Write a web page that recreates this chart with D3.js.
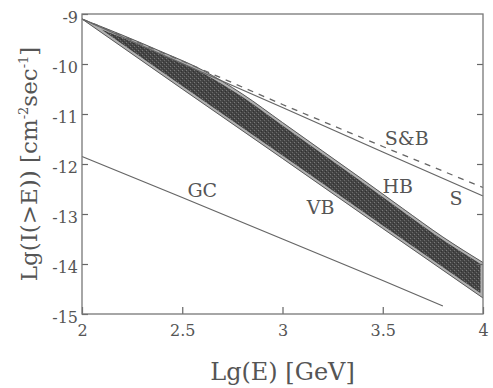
<!DOCTYPE html>
<html>
<head>
<meta charset="utf-8">
<script src="https://cdn.jsdelivr.net/npm/d3@7"></script>
<style>
    body { margin: 0; background: #fff; }
    svg text { font-family: 'DejaVu Serif', serif; fill: #555; }
</style>
</head>
<body>
<svg id="chart"></svg>
<script>
// Lg(E) ticks / Lg(I) ticks
const xTicks = [2, 2.5, 3, 3.5, 4];
const yTicks = [-9, -10, -11, -12, -13, -14, -15];

// S (solid)
const sLgE = [2, 2.5, 3, 3.5, 4];
const sVal = [-9.10, -9.99, -10.87, -11.76, -12.64];

// S&B (dashed)
const sbLgE = [2, 2.5, 3, 3.5, 4];
const sbVal = [-9.10, -9.94, -10.81, -11.65, -12.47];

// GC
const gcLgE = [2, 2.5, 3, 3.5, 3.8];
const gcVal = [-11.85, -12.67, -13.50, -14.33, -14.84];

// VB - HB band, upper and lower edge
const bandUpLgE = [2.0, 2.2, 2.4, 2.6, 2.8, 3.0, 3.2, 3.4, 3.6, 3.8, 4.0];
const bandUpVal = [-9.10, -9.42, -9.76, -10.12, -10.60, -11.17, -11.74, -12.31, -12.89, -13.46, -13.97];
const bandLoLgE = [2.0, 2.5, 3.0, 3.5, 4.0];
const bandLoVal = [-9.10, -10.50, -11.89, -13.29, -14.68];

// curve labels
const labelText = ['GC', 'VB', 'HB', 'S&B', 'S'];
const labelLgE = [2.6, 3.19, 3.575, 3.62, 3.865];
const labelVal = [-12.52, -12.86, -12.44, -11.48, -12.68];

const width = 493;
const height = 388;
const margin = { top: 14, right: 10, bottom: 74, left: 82 };
const w = width - margin.left - margin.right;
const h = height - margin.top - margin.bottom;
const lineColor = '#666';

const svg = d3.select('#chart')
    .attr('width', width)
    .attr('height', height);

const g = svg.append('g')
    .attr('transform', 'translate(' + margin.left + ',' + margin.top + ')');

const x = d3.scaleLinear().domain([2, 4]).range([0, w]);
const y = d3.scaleLinear().domain([-15, -9]).range([h, 0]);

function pts(xs, ys) {
    return xs.map(function (d, i) { return [d, ys[i]]; });
}

const line = d3.line()
    .x(function (d) { return x(d[0]); })
    .y(function (d) { return y(d[1]); });

const smooth = d3.line()
    .curve(d3.curveMonotoneX)
    .x(function (d) { return x(d[0]); })
    .y(function (d) { return y(d[1]); });

// stipple texture for the band
const defs = svg.append('defs');
const pat = defs.append('pattern')
    .attr('id', 'stipple')
    .attr('width', 4)
    .attr('height', 4)
    .attr('patternUnits', 'userSpaceOnUse');
pat.append('rect').attr('width', 4).attr('height', 4).attr('fill', '#454545');
pat.append('rect').attr('x', 0).attr('y', 0).attr('width', 1).attr('height', 1).attr('fill', '#7a7a7a');
pat.append('rect').attr('x', 2).attr('y', 2).attr('width', 1).attr('height', 1).attr('fill', '#6a6a6a');
pat.append('rect').attr('x', 3).attr('y', 1).attr('width', 1).attr('height', 1).attr('fill', '#303030');
pat.append('rect').attr('x', 1).attr('y', 3).attr('width', 1).attr('height', 1).attr('fill', '#363636');

// band outline = upper edge forward + lower edge backward
const upper = pts(bandUpLgE, bandUpVal);
const lower = pts(bandLoLgE, bandLoVal);
const bandPath = smooth(upper) + 'L' + line(lower.slice().reverse()).slice(1) + 'Z';

defs.append('clipPath')
    .attr('id', 'bandClip')
    .append('path')
    .attr('d', bandPath);

const band = g.append('g').attr('clip-path', 'url(#bandClip)');
band.append('path')
    .attr('d', bandPath)
    .attr('fill', 'url(#stipple)');
band.append('path')
    .attr('d', bandPath)
    .attr('fill', 'none')
    .attr('stroke', '#b0b0b0')
    .attr('stroke-width', 5);

g.append('path')
    .attr('d', smooth(upper))
    .attr('fill', 'none')
    .attr('stroke', '#5a5a5a')
    .attr('stroke-width', 1);
g.append('path')
    .attr('d', line(lower))
    .attr('fill', 'none')
    .attr('stroke', '#5a5a5a')
    .attr('stroke-width', 1);

// S, S&B, GC
g.append('path')
    .attr('d', line(pts(sLgE, sVal)))
    .attr('fill', 'none')
    .attr('stroke', lineColor)
    .attr('stroke-width', 1.3);

g.append('path')
    .attr('d', line(pts(sbLgE, sbVal)))
    .attr('fill', 'none')
    .attr('stroke', lineColor)
    .attr('stroke-width', 1.3)
    .attr('stroke-dasharray', '6,6');

g.append('path')
    .attr('d', line(pts(gcLgE, gcVal)))
    .attr('fill', 'none')
    .attr('stroke', lineColor)
    .attr('stroke-width', 1.3);

// axes (ticks inward)
const fmt = function (d) { return String(d); };

const xAxis = g.append('g')
    .attr('transform', 'translate(0,' + h + ')')
    .call(d3.axisBottom(x).tickValues(xTicks).tickFormat(fmt).tickSizeInner(-7).tickSizeOuter(0).tickPadding(11));

const yAxis = g.append('g')
    .call(d3.axisLeft(y).tickValues(yTicks).tickFormat(fmt).tickSizeInner(-6).tickSizeOuter(0).tickPadding(4));

const yRight = g.append('g')
    .attr('transform', 'translate(' + w + ',0)')
    .call(d3.axisRight(y).tickValues(yTicks.slice(1, -1)).tickFormat('').tickSizeInner(-6).tickSizeOuter(0));

[xAxis, yAxis, yRight].forEach(function (a) {
    a.select('.domain').remove();
    a.selectAll('line').attr('stroke', lineColor).attr('stroke-width', 1.2);
    a.selectAll('text')
        .attr('fill', '#555')
        .style('font-family', "'DejaVu Serif', serif")
        .style('font-size', '16px');
});
yAxis.selectAll('text').attr('dy', '0.55em');

// frame
g.append('rect')
    .attr('width', w)
    .attr('height', h)
    .attr('fill', 'none')
    .attr('stroke', '#777')
    .attr('stroke-width', 1.3);

// curve labels
g.selectAll('.lbl')
    .data(labelText)
    .enter()
    .append('text')
    .attr('class', 'lbl')
    .attr('x', function (d, i) { return x(labelLgE[i]); })
    .attr('y', function (d, i) { return y(labelVal[i]); })
    .attr('dy', '0.36em')
    .attr('text-anchor', 'middle')
    .style('font-size', '19px')
    .text(function (d) { return d; });

// axis titles
svg.append('text')
    .attr('x', margin.left + w / 2)
    .attr('y', 380)
    .attr('text-anchor', 'middle')
    .style('font-size', '24px')
    .text('Lg(E) [GeV]');

const yt = svg.append('text')
    .attr('transform', 'translate(37,' + (margin.top + h / 2) + ') rotate(-90)')
    .attr('text-anchor', 'middle')
    .style('font-size', '23px');
yt.append('tspan').text('Lg(I(>E)) [cm');
yt.append('tspan').attr('dy', -9).style('font-size', '13px').text('-2');
yt.append('tspan').attr('dy', 9).text('sec');
yt.append('tspan').attr('dy', -9).style('font-size', '13px').text('-1');
yt.append('tspan').attr('dy', 9).text(']');
</script>
</body>
</html>
